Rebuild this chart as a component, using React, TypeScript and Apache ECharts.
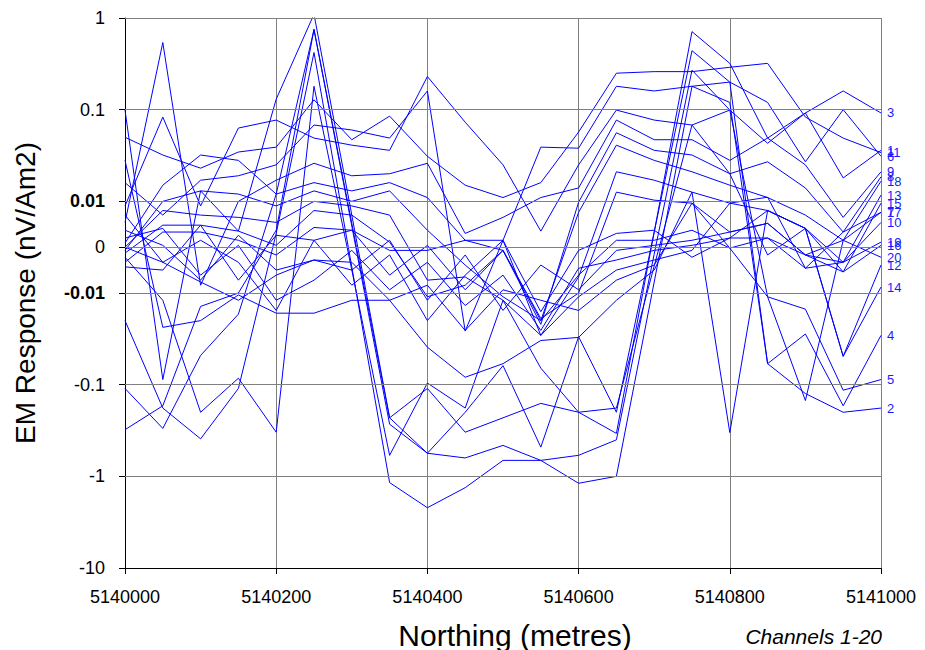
import React, { useEffect, useRef } from "react";
import * as echarts from "echarts";

// Survey stations along the profile (metres, northing)
const northing = [
  5140000, 5140050, 5140100, 5140150, 5140200, 5140250, 5140300, 5140350, 5140400, 5140450,
  5140500, 5140550, 5140600, 5140650, 5140700, 5140750, 5140800, 5140850, 5140900, 5140950, 5141000,
];

// EM response per channel (nV/Am2)
const ch1 = [0.009, 0.083, 0.009, 0.063, 0.077, 0.049, 0.041, 0.036, 0.23, 0.073, 0.025, 0.0035, 0.025, 0.099, 0.077, 0.068, 0.099, 0.043, 0.092, 0.018, 0.036];
const ch2 = [-0.31, -0.17, -0.014, -0.01, 0.0037, 0.75, 0.0052, -0.23, -0.56, -0.2, -0.062, -0.48, -0.03, -0.2, 0.0033, 0.44, 0.2, -0.059, -0.125, -0.2, -0.18];
const ch3 = [0.099, -0.088, 0.013, 0.0035, 0.13, 1.1, 0.007, -0.23, -0.11, -0.33, -0.23, -0.16, -0.2, -0.34, 0.0033, 0.71, 0.32, 0.049, 0.092, 0.16, 0.092];
const ch4 = [-0.02, -0.18, -0.39, -0.11, 0.003, 0.42, -0.0043, -1.17, -2.2, -1.33, -0.67, -0.67, -1.19, -1.0, -0.0076, 0.18, 0.12, -0.059, -0.028, -0.17, -0.029];
const ch5 = [-0.11, -0.3, -0.048, -0.017, 0.012, 0.75, 0.0046, -0.27, -0.56, -0.63, -0.46, -0.67, -0.59, -0.4, -0.0015, 0.27, 0.099, -0.011, -0.015, -0.115, -0.088];
const ch6 = [0.016, 0.007, 0.017, 0.019, 0.025, 0.068, 0.06, 0.049, 0.16, -0.026, 0.0015, 0.039, 0.038, 0.18, 0.16, 0.18, 0.2, 0.12, 0.027, 0.1, 0.031];
const ch7 = [-0.0033, 0.0033, 0.0033, 0.0015, -0.0017, 0.0043, 0.0037, -0.0007, -0.0007, 0.0015, 0.0015, -0.016, -0.0007, 0.003, 0.0037, -0.0022, 0.002, 0.002, -0.0046, 0.0033, 0.0076];
const ch8 = [0.0009, 0.015, 0.032, 0.028, 0.012, 0.016, 0.013, 0.016, 0.011, 0.0015, -0.0007, -0.022, 0.0098, 0.056, 0.036, 0.032, 0.02, 0.027, 0.014, 0.0033, 0.0185];
const ch9 = [0.0054, 0.54, -0.0083, 0.01, 0.017, 0.026, 0.019, 0.02, 0.026, 0.003, 0.0065, 0.011, 0.014, 0.077, 0.047, 0.047, 0.028, 0.049, 0.025, 0.0065, 0.021];
const ch10 = [0.0037, 0.0004, -0.0072, 0.0026, -0.005, -0.0028, -0.005, 0.0015, -0.012, -0.0017, -0.0155, -0.0039, -0.0093, -0.0007, 0.0004, 0.0015, 0.0033, 0.0052, -0.0017, -0.0033, 0.0054];
const ch11 = [0.05, 0.032, 0.023, 0.0345, 0.039, 0.128, 0.047, 0.085, 0.031, 0.015, 0.011, 0.016, 0.057, 0.25, 0.26, 0.26, 0.29, 0.32, 0.083, 0.049, 0.034];
const ch12 = [0.028, -0.0237, -0.02, -0.0105, -0.0166, -0.0166, -0.012, -0.012, -0.039, -0.083, -0.059, -0.033, -0.0305, -0.012, -0.005, 0.0126, -0.333, 0.008, 0.0041, -0.049, -0.0039];
const ch13 = [0, 0.008, 0.007, 0.0065, 0.0054, 0.01, 0.009, 0.007, -0.0072, -0.0065, -0.012, -0.029, -0.0065, 0.021, 0.017, 0.0126, 0.0096, 0.008, 0.0041, -0.0033, 0.0117];
const ch14 = [-0.0022, -0.012, -0.2, -0.085, -0.33, 0.18, -0.005, -0.59, -0.096, -0.18, -0.012, -0.066, -0.2, -0.18, -0.0041, 0.068, 0.02, -0.0017, 0.0041, -0.049, -0.0087];
const ch15 = [-0.0013, 0.0048, 0.0048, 0.0035, 0.0004, 0.008, 0.007, 0.0011, -0.011, -0.0083, -0.0007, -0.019, -0.01, 0.0126, 0.0103, 0.0096, 0.0033, 0.0052, -0.0017, -0.0054, 0.0096];
const ch16 = [0.002, 0.0041, -0.0061, 0.0004, -0.012, -0.0072, -0.0007, -0.0093, -0.0033, -0.0137, -0.0061, -0.0256, -0.0046, -0.0028, -0.0007, 0.0004, 0.002, 0.008, 0.0041, -0.0054, 0.0004];
const ch17 = [-0.0043, -0.005, 0.0048, -0.0072, 0.0026, 0.0015, 0.0037, -0.0061, 0.0004, -0.0093, -0.0007, -0.02, -0.0061, 0.0015, 0.0015, 0.0037, -0.0002, -0.011, -0.149, 0.0015, 0.0076];
const ch18 = [-0.0007, 0.01, 0.013, 0.012, 0.009, 0.013, 0.01, 0.013, 0.0037, -0.0039, -0.011, -0.02, 0.0076, 0.041, 0.028, 0.021, 0.015, 0.011, 0.007, 0.0015, 0.0166];
const ch19 = [0, -0.0033, 0.0015, -0.0033, -0.0155, 0.0015, -0.0083, -0.0017, -0.02, -0.0061, 0.0015, -0.029, -0.011, -0.005, -0.0028, -0.0007, 0.0096, 0.0111, -0.0046, -0.0033, 0.0011];
const ch20 = [0.007, -0.0033, -0.0076, -0.012, -0.0061, -0.0028, -0.0033, -0.012, -0.0083, -0.0256, -0.0093, -0.012, -0.0155, -0.0072, -0.0039, 0.0096, -0.0002, 0.002, -0.0017, 0.0015, -0.0022];

const channels = [ch1, ch2, ch3, ch4, ch5, ch6, ch7, ch8, ch9, ch10, ch11, ch12, ch13, ch14, ch15, ch16, ch17, ch18, ch19, ch20];

// Labelled response levels on the vertical axis
const yTicks = [1, 0.1, 0.01, 0, -0.01, -0.1, -1, -10];
const boldTicks = [0.01, -0.01];

const FONT = "'Liberation Sans', Arial, sans-serif";
const LIN = 0.01; // linear band half-width around zero

// symmetric log: linear within ±0.01, one unit per decade outside
function toAxis(v: number): number {
  const a = Math.abs(v);
  if (a <= LIN) return (v / LIN) * 0.5;
  return Math.sign(v) * (Math.log10(a) + 2.5);
}

export default function App() {
  const ref = useRef<HTMLDivElement>(null);

  useEffect(() => {
    if (!ref.current) return;
    const chart = echarts.init(ref.current, null, { renderer: "svg" });
    const tickPos = yTicks.map(toAxis);

    const labelFor = (u: number) => {
      const i = tickPos.findIndex((t) => Math.abs(t - u) < 1e-6);
      if (i < 0) return "";
      const v = yTicks[i];
      const s = String(v);
      return boldTicks.includes(v) ? `{b|${s}}` : s;
    };

    const lineSeries = channels.map((vals, idx) => ({
      name: String(idx + 1),
      type: "line",
      z: 3,
      symbol: "none",
      silent: true,
      lineStyle: { color: "#0000ff", width: 1 },
      data: vals.map((v, j) => [northing[j], toAxis(v)]),
      endLabel: {
        show: true,
        formatter: String(idx + 1),
        color: "#1a1aff",
        fontFamily: FONT,
        fontSize: 13,
        distance: 6,
      },
    }));

    chart.setOption({
      animation: false,
      grid: { left: 125, right: 44, top: 18, bottom: 82, outerBoundsMode: "none" },
      xAxis: {
        type: "value",
        min: 5140000,
        max: 5141000,
        interval: 200,
        name: "Northing (metres)",
        nameLocation: "middle",
        nameGap: 52,
        nameTextStyle: { fontFamily: FONT, fontSize: 30, color: "#000", padding: [0, 0, 0, 24] },
        axisLine: { onZero: false, lineStyle: { color: "#000", width: 1 } },
        axisTick: { show: true, length: 6, lineStyle: { color: "#000" } },
        axisLabel: {
          margin: 20,
          color: "#000",
          fontFamily: FONT,
          fontSize: 18,
          formatter: (v: number) => String(v),
        },
        splitLine: { show: true, lineStyle: { color: "#808080", width: 1 } },
      },
      yAxis: {
        type: "value",
        min: -3.5,
        max: 2.5,
        interval: 0.5,
        name: "EM Response (nV/Am2)",
        nameLocation: "middle",
        nameGap: 86,
        nameTextStyle: { fontFamily: FONT, fontSize: 28, color: "#000" },
        axisLine: { onZero: false, lineStyle: { color: "#000", width: 1 } },
        axisTick: { show: true, length: 6, customValues: tickPos, lineStyle: { color: "#000" } },
        axisLabel: {
          margin: 20,
          color: "#000",
          fontFamily: FONT,
          fontSize: 18,
          customValues: tickPos,
          formatter: (u: number) => labelFor(u),
          rich: { b: { fontWeight: "bold", fontFamily: FONT, fontSize: 18, color: "#000" } },
        },
        splitLine: { show: false },
      },
      graphic: [
        {
          type: "text",
          right: 43,
          top: 626,
          style: {
            text: "Channels 1-20",
            fontFamily: FONT,
            fontSize: 21,
            fontStyle: "italic",
            fill: "#000",
          },
        },
      ],
      series: [
        {
          name: "grid",
          type: "line",
          z: 1,
          data: [],
          silent: true,
          markLine: {
            silent: true,
            symbol: ["none", "none"],
            label: { show: false },
            lineStyle: { color: "#808080", width: 1, type: "solid" },
            data: tickPos.filter((u) => u > -3.5).map((u) => ({ yAxis: u })),
          },
        },
        ...lineSeries,
      ],
    });

    return () => chart.dispose();
  }, []);

  return (
    <div
      ref={ref}
      style={{ position: "fixed", left: 0, top: 0, width: 925, height: 650, background: "#fff" }}
    />
  );
}
